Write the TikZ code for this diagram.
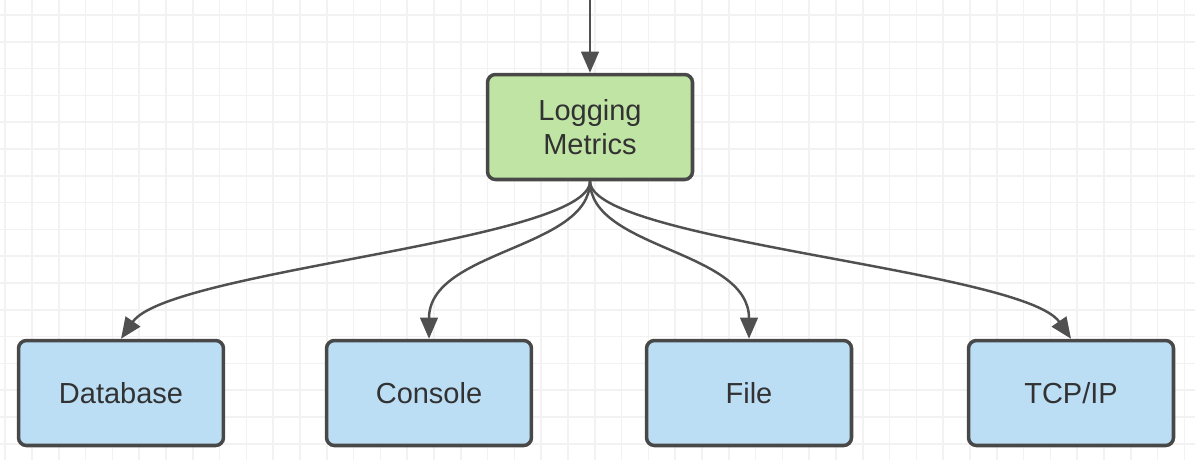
\documentclass[tikz,border=0pt]{standalone}
\usepackage{fontspec}
\setmainfont{Liberation Sans}
\usetikzlibrary{arrows.meta}
\definecolor{boxline}{RGB}{72,72,72}
\definecolor{arrowgray}{RGB}{80,80,80}
\definecolor{loggreen}{RGB}{192,228,164}
\definecolor{sinkblue}{RGB}{187,222,245}
\definecolor{gridgray}{RGB}{242,242,242}
\definecolor{textgray}{RGB}{50,50,50}
\tikzset{
  box/.style={draw=boxline, line width=2pt, rounded corners=4.5pt, minimum width=4.1cm, minimum height=2.1cm, align=center, text=textgray, font=\fontsize{16.5}{19.4}\selectfont},
  arr/.style={draw=arrowgray, line width=1.4pt, -{Triangle[length=12pt,width=10pt]}}
}
\begin{document}
\begin{tikzpicture}[x=0.02cm, y=-0.02cm]
\fill[white] (0,0) rectangle (1195,460);
\useasboundingbox (0,0) rectangle (1195,460);
% grid
\foreach \i in {0,...,44} \draw[gridgray, line width=0.9pt] ({5.2+26.8*\i},0) -- ({5.2+26.8*\i},460);
\foreach \j in {0,...,16} \draw[gridgray, line width=0.9pt] (0,{15+26.8*\j}) -- (1195,{15+26.8*\j});
% boxes
\node[box, fill=loggreen] (log) at (590,127) {Logging\\Metrics};
\node[box, fill=sinkblue] (db) at (121,393) {Database};
\node[box, fill=sinkblue] (con) at (429,393) {Console};
\node[box, fill=sinkblue] (file) at (749,393) {File};
\node[box, fill=sinkblue] (tcp) at (1071,393) {TCP/IP};
% arrows
\coordinate (src) at (590,0);
\draw[arr] (src) -- (log.north);
\draw[arr] (log.south) .. controls +(0,60) and +(48,-69) .. (db.north);
\draw[arr] (log.south) .. controls +(0,68) and +(0,-89) .. (con.north);
\draw[arr] (log.south) .. controls +(0,68) and +(0,-89) .. (file.north);
\draw[arr] (log.south) .. controls +(0,60) and +(-48,-69) .. (tcp.north);
\end{tikzpicture}
\end{document}
